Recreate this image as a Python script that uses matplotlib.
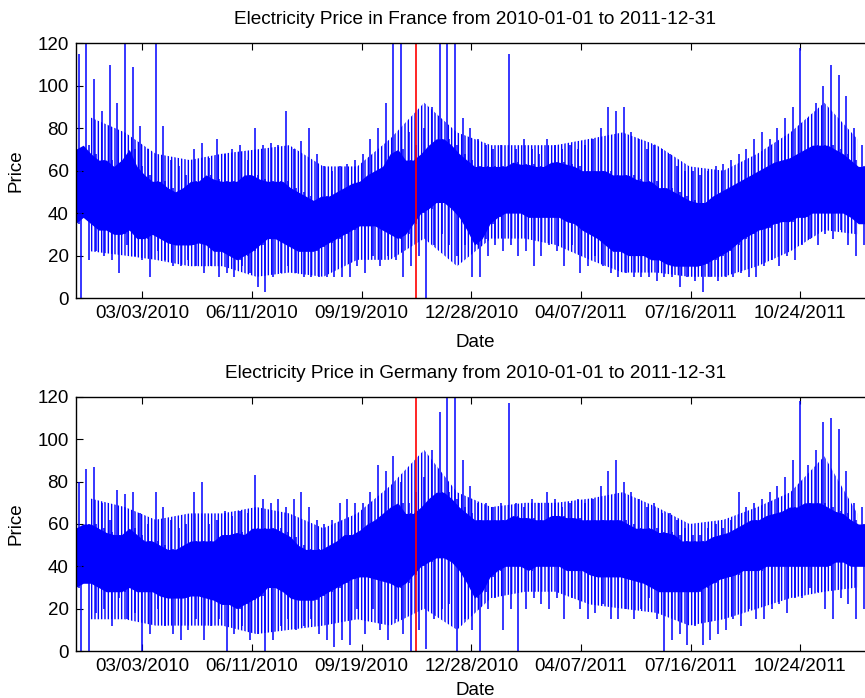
import numpy as np
import matplotlib
matplotlib.use("Agg")
import matplotlib.pyplot as plt
import matplotlib.dates as mdates

plt.rcParams['font.family'] = ['Liberation Sans', 'DejaVu Sans']
plt.rcParams['hatch.linewidth'] = 1.0
plt.rcParams['hatch.color'] = 'blue'

###############################
### data (one value per week, 2010-01-01 .. 2011-12-31)

week_start = np.datetime64('2010-01-01')
n_weeks = 105

fr_spike_hi = [115, 120, 103, 88, 110, 92, 120, 109, 81, 70,
               120, 81, 65, 62, 58, 70, 73, 66, 75, 68,
               70, 72, 65, 80, 72, 73, 72, 88, 70, 74,
               80, 68, 62, 60, 62, 63, 65, 68, 75, 80,
               92, 120, 120, 78, 72, 80, 90, 120, 120, 120,
               85, 80, 75, 72, 70, 72, 115, 70, 75, 70,
               68, 75, 72, 70, 72, 70, 72, 75, 80, 90,
               88, 90, 78, 75, 70, 72, 70, 68, 62, 60,
               60, 58, 60, 62, 63, 65, 68, 70, 75, 78,
               75, 80, 85, 90, 118, 85, 92, 100, 110, 105,
               95, 80, 72, 68, 65]
fr_core_hi = [70, 72, 68, 65, 65, 62, 65, 70, 62, 58,
              55, 55, 52, 50, 52, 55, 55, 58, 56, 55,
              55, 55, 58, 58, 56, 55, 55, 55, 52, 50,
              48, 46, 48, 48, 50, 52, 54, 55, 58, 60,
              62, 68, 70, 65, 65, 68, 72, 75, 75, 72,
              68, 65, 62, 62, 62, 62, 62, 64, 63, 63,
              62, 62, 64, 64, 63, 62, 60, 60, 60, 60,
              58, 58, 58, 56, 55, 55, 52, 52, 50, 48,
              46, 45, 45, 48, 50, 52, 54, 56, 58, 60,
              62, 64, 65, 66, 68, 70, 72, 72, 72, 70,
              68, 65, 62, 62, 60]
fr_core_lo = [35, 38, 35, 32, 32, 30, 30, 32, 28, 28,
              30, 28, 26, 25, 25, 25, 26, 25, 22, 22,
              20, 18, 20, 22, 25, 28, 28, 26, 24, 22,
              22, 22, 24, 26, 28, 30, 32, 34, 34, 34,
              32, 30, 28, 30, 35, 40, 42, 45, 45, 42,
              38, 32, 25, 28, 35, 38, 40, 40, 40, 38,
              38, 38, 38, 38, 36, 35, 32, 30, 28, 25,
              22, 22, 20, 20, 20, 18, 18, 16, 15, 15,
              15, 15, 16, 18, 20, 22, 25, 28, 30, 32,
              33, 35, 36, 36, 38, 38, 40, 40, 40, 40,
              40, 38, 35, 35, 40]
fr_spike_lo = [0, 18, 22, 20, 18, 12, 25, 20, 18, 10,
               22, 18, 15, 15, 18, 15, 12, 15, 10, 12,
               10, 15, 12, 5, 3, 10, 12, 15, 12, 10,
               10, 10, 10, 10, 10, 10, 15, 12, 20, 15,
               20, 18, 10, 15, 20, 0, 25, 30, 25, 20,
               25, 10, 10, 20, 25, 22, 25, 20, 22, 15,
               20, 25, 22, 15, 25, 12, 15, 20, 15, 12,
               10, 12, 10, 10, 10, 8, 10, 10, 5, 10,
               8, 3, 10, 8, 10, 10, 12, 10, 10, 15,
               18, 15, 20, 18, 25, 28, 25, 30, 28, 32,
               25, 20, 25, 30, 30]

de_spike_hi = [80, 86, 87, 70, 62, 76, 74, 75, 65, 60,
               75, 68, 62, 58, 60, 75, 80, 60, 62, 66,
               64, 66, 65, 83, 72, 70, 72, 68, 72, 75,
               68, 62, 60, 62, 70, 72, 70, 70, 75, 88,
               85, 92, 80, 70, 75, 82, 95, 113, 120, 120,
               90, 78, 70, 70, 68, 70, 117, 70, 68, 72,
               70, 75, 72, 68, 70, 72, 70, 72, 78, 85,
               90, 80, 75, 72, 68, 70, 65, 65, 62, 58,
               55, 55, 58, 60, 58, 62, 75, 68, 70, 72,
               75, 78, 82, 90, 118, 88, 95, 108, 110, 105,
               85, 70, 68, 66, 66]
de_core_hi = [58, 60, 60, 58, 56, 55, 55, 58, 55, 52,
              52, 50, 48, 48, 50, 52, 52, 52, 52, 55,
              55, 56, 55, 58, 58, 58, 58, 56, 54, 50,
              48, 48, 48, 50, 52, 55, 55, 57, 60, 62,
              65, 68, 70, 65, 65, 68, 72, 75, 75, 72,
              68, 65, 62, 62, 62, 62, 62, 64, 63, 63,
              62, 62, 64, 64, 63, 63, 62, 62, 62, 62,
              62, 62, 60, 58, 58, 58, 56, 56, 55, 52,
              52, 52, 52, 54, 55, 56, 58, 60, 62, 62,
              64, 65, 66, 68, 68, 70, 70, 70, 68, 66,
              65, 62, 60, 60, 58]
de_core_lo = [30, 32, 32, 30, 28, 28, 28, 30, 28, 28,
              28, 26, 25, 25, 25, 26, 26, 25, 24, 22,
              22, 20, 22, 24, 26, 30, 30, 28, 25, 24,
              24, 24, 26, 28, 30, 32, 34, 35, 35, 34,
              33, 32, 30, 32, 36, 40, 42, 44, 44, 42,
              38, 32, 25, 28, 35, 38, 40, 40, 40, 38,
              40, 40, 40, 40, 38, 38, 38, 36, 35, 35,
              35, 35, 34, 33, 32, 30, 28, 28, 28, 28,
              28, 28, 30, 32, 34, 35, 36, 38, 38, 38,
              40, 40, 40, 40, 40, 40, 40, 40, 40, 42,
              42, 40, 40, 40, 40]
de_spike_lo = [0, 0, 18, 20, 12, 25, 15, 18, 0, 8,
               20, 12, 8, 5, 10, 15, 5, 12, 15, 0,
               8, 12, 5, 8, 0, 5, 12, 15, 10, 12,
               15, 8, 5, 2, 5, 3, 20, 8, 20, 10,
               5, 15, 8, 0, 10, 1, 15, 20, 22, 0,
               15, 10, 0, 20, 25, 10, 20, 0, 20, 25,
               22, 20, 25, 15, 25, 20, 15, 18, 22, 15,
               15, 20, 15, 20, 25, 15, 0, 5, 8, 3,
               12, 3, 5, 8, 10, 15, 12, 20, 15, 15,
               20, 22, 18, 25, 25, 30, 28, 20, 15, 25,
               22, 15, 20, 25, 25]

# monthly reach of the frequent daily peaks / troughs (thin-line fringe)
month_start = np.arange(np.datetime64('2010-01'), np.datetime64('2012-01'))
fr_fringe_hi = [85, 78, 68, 65, 68, 70, 72, 62, 62, 75, 92, 78,
                72, 72, 72, 75, 78, 72, 62, 60, 68, 78, 92, 75]
fr_fringe_lo = [22, 20, 18, 15, 15, 10, 12, 10, 18, 18, 28, 15,
                28, 28, 25, 18, 12, 12, 10, 10, 15, 22, 32, 30]
de_fringe_hi = [72, 68, 62, 65, 65, 68, 65, 58, 65, 78, 95, 75,
                68, 70, 70, 72, 75, 68, 60, 62, 68, 75, 92, 65]
de_fringe_lo = [15, 15, 12, 12, 12, 8, 10, 12, 15, 12, 20, 10,
                25, 28, 28, 22, 20, 18, 12, 15, 20, 25, 28, 30]

cut_date = np.datetime64('2010-11-08')
tick_dates = np.arange(np.datetime64('2010-03-03'), np.datetime64('2011-12-01'), 100)


###############################
### plotting

weeks = week_start + np.arange(n_weeks) * 7
t_mid = weeks + 3
t_lo = weeks + 5
months = month_start.astype('datetime64[D]') + 14

fig = plt.figure(figsize=(8.65, 6.98), dpi=100)
ax1 = fig.add_axes([0.0873, 0.573, 0.924, 0.365])
ax2 = fig.add_axes([0.0873, 0.0673, 0.924, 0.364])

panels = [
	(ax1, 'France', fr_spike_hi, fr_core_hi, fr_core_lo, fr_spike_lo, fr_fringe_hi, fr_fringe_lo, 9),
	(ax2, 'Germany', de_spike_hi, de_core_hi, de_core_lo, de_spike_lo, de_fringe_hi, de_fringe_lo, 5),
]

for ax, country, s_hi, c_hi, c_lo, s_lo, f_hi, f_lo, xpad in panels:
	ax.fill_between(months, f_lo, f_hi, facecolor='none', edgecolor='blue',
		hatch='|||||', linewidth=0)
	ax.fill_between(weeks, c_lo, c_hi, color='blue', linewidth=0)
	ax.vlines(t_mid, c_lo, s_hi, color='blue', linewidth=1.1)
	ax.vlines(t_lo, s_lo, c_hi, color='blue', linewidth=1.1)
	ax.axvline(cut_date, color='red', linewidth=1.2)

	ax.set_xlim(np.datetime64('2010-01-01'), np.datetime64('2011-12-31'))
	ax.set_ylim(0, 120)
	ax.set_yticks(range(0, 121, 20))
	ax.set_xticks(tick_dates)
	ax.xaxis.set_major_formatter(mdates.DateFormatter('%m/%d/%Y'))
	ax.tick_params(direction='in', top=True, right=True, length=5,
		labelsize=13.5, pad=5)
	for sp in ax.spines.values():
		sp.set_linewidth(1.0)
	ax.set_title('Electricity Price in %s from 2010-01-01 to 2011-12-31' % country,
		fontsize=13.7, pad=14)
	ax.set_xlabel('Date', fontsize=13.5, labelpad=xpad)
	ax.set_ylabel('Price', fontsize=13.5, labelpad=9)

fig.savefig('out.png', dpi=100)
